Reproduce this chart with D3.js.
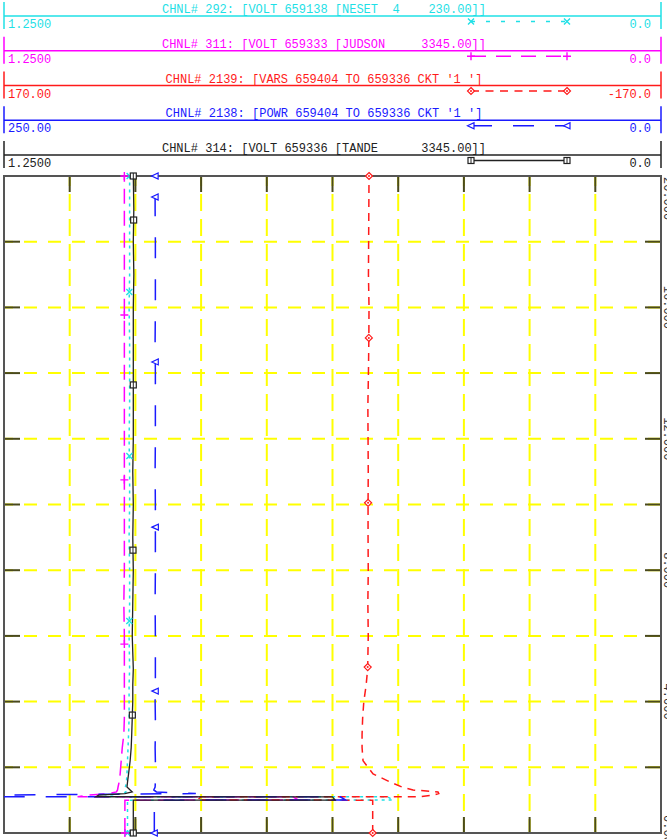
<!DOCTYPE html>
<html><head><meta charset="utf-8">
<script src="https://cdn.jsdelivr.net/npm/d3@7"></script>
<style>html,body{margin:0;padding:0;background:#fff;} svg{display:block;}</style>
</head><body>
<svg id="chart" width="667" height="839"></svg>
<script>
// Simulation time (seconds) shared by every channel
const times = [0, 1.0, 1.003, 1.1, 1.103, 1.15, 1.2, 1.25, 1.31, 1.4,
  1.55, 1.8, 2.2, 2.6, 3.0, 3.5, 4.0, 4.5, 5,
  6, 7, 8, 9, 10, 11, 12, 13, 14, 15, 16, 17, 18, 19, 20];

// CHNL# 292  VOLT 659138 (pu)
const volt292 = [1.015, 1.015, 0.51, 0.52, 1.06, 1.05, 1.025, 1.018, 1.02, 1.019,
  1.017, 1.016, 1.015, 1.014, 1.013, 1.012, 1.012, 1.012, 1.011,
  1.012, 1.011, 1.011, 1.012, 1.011, 1.011, 1.012, 1.011, 1.011, 1.011, 1.012, 1.011, 1.011, 1.011, 1.011];
// CHNL# 311  VOLT 659333 (pu)
const volt311 = [1.020, 1.020, 0.69, 0.70, 1.11, 1.09, 1.05, 1.036, 1.034, 1.033,
  1.031, 1.029, 1.027, 1.025, 1.022, 1.021, 1.021, 1.021, 1.021,
  1.021, 1.022, 1.021, 1.021, 1.021, 1.021, 1.021, 1.021, 1.021, 1.021, 1.021, 1.021, 1.021, 1.021, 1.021];
// CHNL# 2139  VARS 659404 -> 659336 (Mvar)
const vars2139 = [-20.8, -20.8, 70, 68, -45, -52, -55, -54.6, -41.7, -36,
  -29.8, -21, -15.8, -15.3, -15.3, -15.6, -16.2, -17.4, -18.2,
  -18.5, -18.3, -18.5, -18.4, -18.4, -18.5, -18.4, -18.3, -18.6, -18.8, -18.9, -18.6, -18.7, -18.8, -18.9];
// CHNL# 2138  POWR 659404 -> 659336 (MW)
const powr2138 = [192.8, 192.8, 120, 122, 300, 262, 177, 192, 193, 192.5,
  192.4, 192.4, 192.4, 192.5, 192.4, 192.4, 192.5, 192.4, 192.4,
  192.4, 192.5, 192.4, 192.4, 192.4, 192.5, 192.4, 192.4, 192.4, 192.5, 192.4, 192.4, 192.4, 192.5, 192.5];
// CHNL# 314  VOLT 659336 (pu)
const volt314 = [1.004, 1.004, 0.62, 0.625, 1.075, 1.07, 1.02, 1.006, 1.01, 1.016,
  1.015, 1.013, 1.01, 1.008, 1.007, 1.006, 1.005, 1.005, 1.004,
  1.006, 1.005, 1.004, 1.005, 1.004, 1.005, 1.004, 1.004, 1.004, 1.004, 1.004, 1.003, 1.004, 1.003, 1.004];

// Marker times for each channel
const marks292 = [0, 6.45, 11.48, 16.47, 20];
const marks311 = [0, 5.75, 10.75, 15.77, 20];
const marks2139 = [0, 5.05, 10.05, 15.07, 20];
const marks2138 = [0, 4.32, 9.31, 14.34, 19.36, 20];
const marks314 = [0, 3.59, 8.61, 13.64, 18.66, 20];

// Channel titles and axis limits (left value, right value)
const titles = [
  "CHNL# 292: [VOLT 659138 [NESET  4    230.00]]",
  "CHNL# 311: [VOLT 659333 [JUDSON     3345.00]]",
  "CHNL# 2139: [VARS 659404 TO 659336 CKT '1 ']",
  "CHNL# 2138: [POWR 659404 TO 659336 CKT '1 ']",
  "CHNL# 314: [VOLT 659336 [TANDE      3345.00]]"
];
const leftLimits = [1.25, 1.25, 170, 250, 1.25];
const rightLimits = [0, 0, -170, 0, 0];
const leftLabels = ["1.2500", "1.2500", "170.00", "250.00", "1.2500"];
const rightLabels = ["0.0", "0.0", "-170.0", "0.0", "0.0"];

// Time axis
const timeDomain = [0, 20];
const timeLabelTicks = [0, 4, 8, 12, 16, 20];

const series = [volt292, volt311, vars2139, powr2138, volt314];
const markTimes = [marks292, marks311, marks2139, marks2138, marks314];

// ---- styling ----
const colors = ["#1fe0e6", "#ff00ff", "#ff1a1a", "#1a1aff", "#222222"];
const dashes = ["3,4", "15,7", "8,6", "21,21", null];
const legendDashes = ["4,11", "15,10", "8,6.5", "21,21", null];
const markerKinds = ["x", "plus", "diamond", "tri", "square"];

const P = {l: 4, r: 661, t: 176, b: 833};
const FONT = "'Liberation Mono', 'DejaVu Sans Mono', monospace";

const svg = d3.select("#chart");

const y = d3.scaleLinear().domain(timeDomain).range([P.b, P.t]);
const xScales = leftLimits.map((lv, i) => d3.scaleLinear().domain([lv, rightLimits[i]]).range([P.l, P.r]));
const div = d3.scaleLinear().domain([0, 10]).range([P.l, P.r]);

function marker(g, kind, color) {
  if (kind === "x") {
    g.append("path").attr("d", "M-3,-3L3,3M-3,3L3,-3").attr("stroke", color).attr("stroke-width", 1.4).attr("fill", "none");
  } else if (kind === "plus") {
    g.append("path").attr("d", "M-4,0L4,0M0,-4L0,4").attr("stroke", color).attr("stroke-width", 1.4).attr("fill", "none");
  } else if (kind === "diamond") {
    g.append("path").attr("d", "M0,-3.5L3.5,0L0,3.5L-3.5,0Z").attr("stroke", color).attr("stroke-width", 1.2).attr("fill", "#fff");
    g.append("circle").attr("r", 1).attr("fill", color);
  } else if (kind === "tri") {
    g.append("path").attr("d", "M-3.5,0L3,-3L3,3Z").attr("stroke", color).attr("stroke-width", 1.2).attr("fill", "#fff");
  } else {
    g.append("rect").attr("x", -3).attr("y", -3).attr("width", 6).attr("height", 6)
      .attr("stroke", color).attr("stroke-width", 1.2).attr("fill", "#fff");
    g.append("path").attr("d", "M0,-3L0,3").attr("stroke", color).attr("stroke-width", 1);
  }
}

// ---- channel headers ----
const header = svg.append("g");
titles.forEach((t, i) => {
  const ly = 16 + i * 34.75;
  const c = colors[i];
  const g = header.append("g");
  g.append("line").attr("x1", P.l).attr("x2", P.r).attr("y1", ly).attr("y2", ly)
    .attr("stroke", c).attr("stroke-width", 1.5);
  [P.l, P.r].forEach(xx => g.append("line").attr("x1", xx).attr("x2", xx)
    .attr("y1", ly - 14).attr("y2", ly + 13).attr("stroke", c).attr("stroke-width", 1.5));
  g.append("text").attr("x", 324).attr("y", ly - 3).attr("text-anchor", "middle")
    .attr("font-family", FONT).attr("font-size", 12).attr("fill", c)
    .attr("xml:space", "preserve").style("white-space", "pre").text(t);
  g.append("text").attr("x", 8).attr("y", ly + 12).attr("font-family", FONT)
    .attr("font-size", 12).attr("fill", c).text(leftLabels[i]);
  g.append("text").attr("x", 651).attr("y", ly + 12).attr("text-anchor", "end")
    .attr("font-family", FONT).attr("font-size", 12).attr("fill", c).text(rightLabels[i]);
  const sy = ly + 5.5;
  const s = g.append("line").attr("x1", 471).attr("x2", 567).attr("y1", sy).attr("y2", sy)
    .attr("stroke", c).attr("stroke-width", 1.3);
  if (legendDashes[i]) s.attr("stroke-dasharray", legendDashes[i]);
  [471, 567].forEach(xx => marker(g.append("g").attr("transform", `translate(${xx},${sy})`), markerKinds[i], c));
});

// ---- grid ----
const grid = svg.append("g");
d3.range(1, 10).forEach(k => {
  grid.append("line").attr("x1", div(k)).attr("x2", div(k)).attr("y1", P.t).attr("y2", P.b)
    .attr("stroke", "#ffff00").attr("stroke-width", 2).attr("stroke-dasharray", "17,8").attr("stroke-dashoffset", -18);
});
y.ticks(10).filter(v => v > timeDomain[0] && v < timeDomain[1]).forEach(v => {
  grid.append("line").attr("x1", P.l).attr("x2", P.r).attr("y1", y(v)).attr("y2", y(v))
    .attr("stroke", "#ffff00").attr("stroke-width", 2).attr("stroke-dasharray", "13,11").attr("stroke-dashoffset", -20);
});

// tick marks on all four sides
const tickC = "#4a4a1c", TL = 16;
d3.range(1, 10).forEach(k => {
  grid.append("line").attr("x1", div(k)).attr("x2", div(k)).attr("y1", P.t).attr("y2", P.t + TL).attr("stroke", tickC).attr("stroke-width", 2);
  grid.append("line").attr("x1", div(k)).attr("x2", div(k)).attr("y1", P.b - TL).attr("y2", P.b).attr("stroke", tickC).attr("stroke-width", 2);
});
y.ticks(10).filter(v => v > timeDomain[0] && v < timeDomain[1]).forEach(v => {
  grid.append("line").attr("x1", P.l).attr("x2", P.l + TL).attr("y1", y(v)).attr("y2", y(v)).attr("stroke", tickC).attr("stroke-width", 2);
  grid.append("line").attr("x1", P.r - TL).attr("x2", P.r).attr("y1", y(v)).attr("y2", y(v)).attr("stroke", tickC).attr("stroke-width", 2);
});

// frame
svg.append("rect").attr("x", P.l).attr("y", P.t).attr("width", P.r - P.l).attr("height", P.b - P.t)
  .attr("fill", "none").attr("stroke", "#555").attr("stroke-width", 2);

// time labels along the right edge
timeLabelTicks.forEach(v => {
  const top = v === timeDomain[1];
  svg.append("text").attr("transform", `translate(664,${top ? P.t + 1 : y(v)}) rotate(90)`)
    .attr("text-anchor", top ? "start" : "middle").attr("font-family", FONT)
    .attr("font-size", 12).attr("fill", "#333").text(d3.format(".3f")(v));
});

// ---- channel traces ----
svg.append("clipPath").attr("id", "plotclip").append("rect")
  .attr("x", P.l).attr("y", P.t).attr("width", P.r - P.l).attr("height", P.b - P.t);
const traces = svg.append("g").attr("clip-path", "url(#plotclip)");
series.forEach((vals, i) => {
  const x = xScales[i];
  const line = d3.line().x(d => x(d[1])).y(d => y(d[0]));
  const p = traces.append("path").datum(times.map((t, k) => [t, vals[k]]))
    .attr("d", line).attr("fill", "none").attr("stroke", colors[i])
    .attr("stroke-width", i === 4 ? 1.3 : 1.5);
  if (dashes[i]) p.attr("stroke-dasharray", dashes[i]);
});

// markers
series.forEach((vals, i) => {
  const interp = d3.scaleLinear().domain(times).range(vals);
  markTimes[i].forEach(t => {
    const g = svg.append("g").attr("transform", `translate(${xScales[i](interp(t))},${y(t)})`);
    marker(g, markerKinds[i], colors[i]);
  });
});
</script>
</body></html>
